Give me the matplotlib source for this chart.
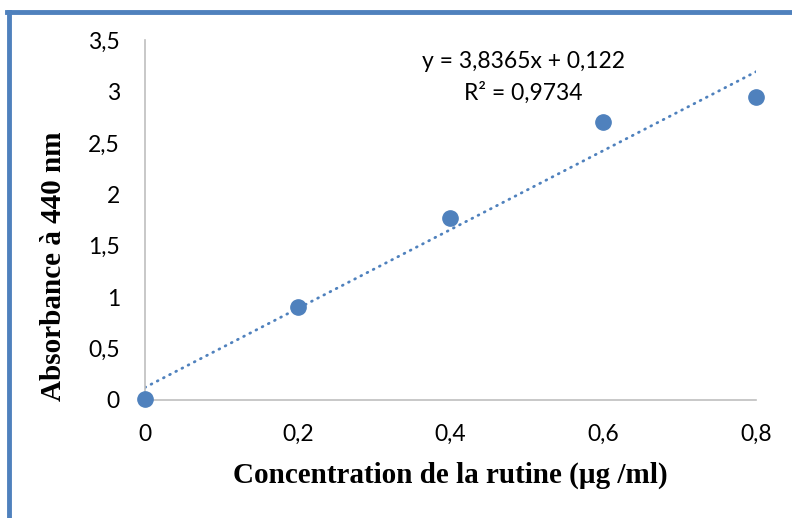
import numpy as np
import matplotlib
matplotlib.use("Agg")
import matplotlib.pyplot as plt
from matplotlib.lines import Line2D

# data
concentration = [0.0, 0.2, 0.4, 0.6, 0.8]
absorbance = [0.01, 0.90, 1.77, 2.70, 2.95]
slope = 3.8365
intercept = 0.122
r2 = 0.9734

x_ticks = [0, 0.2, 0.4, 0.6, 0.8]
x_ticklabels = ["0", "0,2", "0,4", "0,6", "0,8"]
y_ticks = [0, 0.5, 1, 1.5, 2, 2.5, 3, 3.5]
y_ticklabels = ["0", "0,5", "1", "1,5", "2", "2,5", "3", "3,5"]

blue = "#4f81bd"
tick_font = ["Lato", "DejaVu Sans"]
label_font = ["Liberation Serif", "DejaVu Serif"]

fig = plt.figure(figsize=(7.92, 5.18), dpi=100)
ax = fig.add_axes([0.183, 0.2278, 0.7715, 0.695])

# linear trendline
xl = np.array([concentration[0], concentration[-1]])
ax.plot(xl, slope * xl + intercept, color=blue, lw=2.0, ls=(0, (0.3, 2.2)),
        dash_capstyle="round", zorder=2)
ax.plot(concentration, absorbance, "o", color=blue, ms=11, zorder=3,
        clip_on=False)

ax.set_xlim(0, 0.8)
ax.set_ylim(0, 3.5)
ax.set_xticks(x_ticks)
ax.set_xticklabels(x_ticklabels, family=tick_font, fontsize=16.5)
ax.set_yticks(y_ticks)
ax.set_yticklabels(y_ticklabels, family=tick_font, fontsize=16.5)
ax.tick_params(length=0)
ax.tick_params(axis="x", pad=17)
ax.tick_params(axis="y", pad=18)

for side in ["top", "right"]:
    ax.spines[side].set_visible(False)
for side in ["left", "bottom"]:
    ax.spines[side].set_color("#bfbfbf")
    ax.spines[side].set_linewidth(1.2)

ax.set_xlabel("Concentration de la rutine (µg /ml)", family=label_font,
              fontweight="bold", fontsize=21, labelpad=12)
ax.set_ylabel("Absorbance à 440 nm", family=label_font, fontweight="bold",
              fontsize=21)
ax.yaxis.set_label_coords(-0.128, 0.372)

eq = f"y = {slope:.4f}x + {intercept:.3f}".replace(".", ",")
r2_txt = f"R² = {r2:.4f}".replace(".", ",")
ax.text(0.495, 3.29, eq, ha="center", va="center", family=tick_font, fontsize=16.5)
ax.text(0.495, 2.985, r2_txt, ha="center", va="center", family=tick_font, fontsize=16.5)

# frame lines of the chart area
fig.add_artist(Line2D([0.0115, 0.0115], [0, 0.977], color=blue, lw=3.5))
fig.add_artist(Line2D([0.009, 1.0], [0.977, 0.977], color=blue, lw=3.5))

fig.savefig("out.png", dpi=100)
